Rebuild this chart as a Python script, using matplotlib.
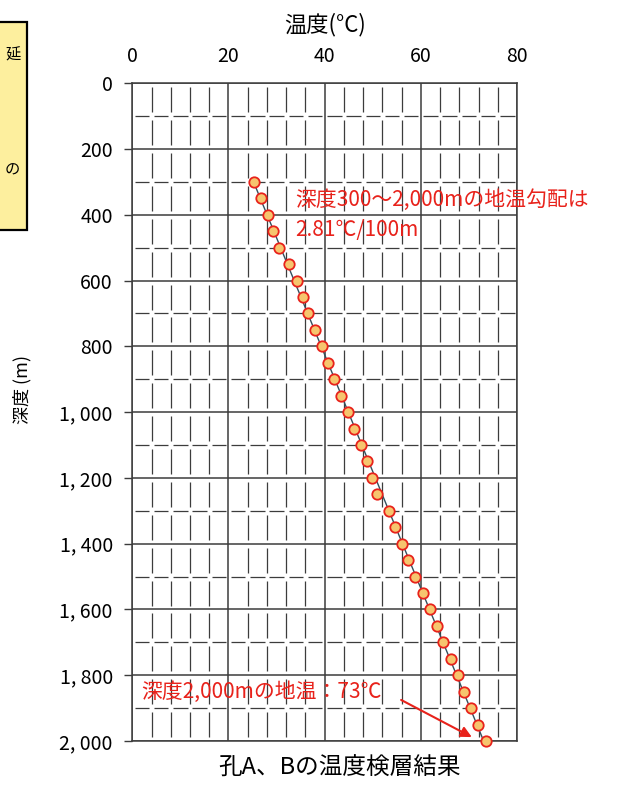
import numpy as np
import matplotlib
matplotlib.use("Agg")
import matplotlib.pyplot as plt
from matplotlib.collections import LineCollection
from matplotlib.patches import Rectangle

plt.rcParams['font.family'] = ['Noto Sans CJK JP', 'DejaVu Sans']

# ---- data ----
depths = [300, 350, 400, 450, 500, 550, 600, 650, 700, 750, 800, 850,
          900, 950, 1000, 1050, 1100, 1150, 1200, 1250, 1300, 1350, 1400, 1450,
          1500, 1550, 1600, 1650, 1700, 1750, 1800, 1850, 1900, 1950, 2000]
temps = [25.4, 26.7, 28.3, 29.2, 30.6, 32.6, 34.2, 35.4, 36.6, 38.0, 39.4, 40.7,
         42.0, 43.4, 44.9, 46.2, 47.5, 48.7, 49.9, 50.9, 53.4, 54.6, 56.1, 57.4,
         58.8, 60.4, 61.9, 63.3, 64.7, 66.3, 67.7, 69.0, 70.4, 71.8, 73.5]
x_ticks = [0, 20, 40, 60, 80]
x_ticklabels = ["0", "20", "40", "60", "80"]
y_ticks = [0, 200, 400, 600, 800, 1000, 1200, 1400, 1600, 1800, 2000]
y_ticklabels = ["0", "200", "400", "600", "800", "1, 000", "1, 200", "1, 400",
                "1, 600", "1, 800", "2, 000"]

RED = "#E8221B"
GRID = "#3c3c3c"

fig = plt.figure(figsize=(6.34, 7.87), dpi=100)
ax = fig.add_axes([0.2087, 0.0584, 0.8155 - 0.2087, 0.8942 - 0.0584])
ax.set_xlim(0, 80)
ax.set_ylim(2000, 0)

# ---- grid ----
for xv in range(0, 81, 20):
    ax.axvline(xv, color=GRID, lw=1.1, zorder=1)
for yv in range(0, 2001, 200):
    ax.axhline(yv, color=GRID, lw=1.1, zorder=1)
segs = []
for xv in range(4, 80, 4):
    if xv % 20 == 0:
        continue
    for yv in range(0, 2000, 100):
        segs.append([(xv, yv + 12), (xv, yv + 88)])
for yv in range(100, 2000, 200):
    for xv in range(0, 80, 4):
        segs.append([(xv + 0.5, yv), (xv + 3.5, yv)])
ax.add_collection(LineCollection(segs, colors=GRID, linewidths=0.9, zorder=1))

for s in ax.spines.values():
    s.set_color(GRID)
    s.set_linewidth(1.1)

# ---- data ----
coef = np.polyfit(depths, temps, 1)
d_line = np.array([depths[0], depths[-1]])
ax.plot(np.polyval(coef, d_line), d_line, color="#34505e", lw=1.0, zorder=2,
        clip_on=False)
ax.plot(temps, depths, 'o', ms=7.5, mfc="#F6C56E", mec=RED, mew=1.3, zorder=3,
        clip_on=False)

# ---- ticks ----
ax.xaxis.tick_top()
ax.set_xticks(x_ticks)
ax.set_xticklabels(x_ticklabels, fontsize=14)
ax.tick_params(axis='x', length=0, pad=12)
ax.set_yticks(y_ticks)
ax.set_yticklabels(y_ticklabels, fontsize=14)
ax.tick_params(axis='y', length=6, width=1, color=GRID, pad=8)
ax.set_xlabel("温度(°C)", fontsize=16, labelpad=10)
ax.xaxis.set_label_position('top')
fig.text(0.035, 0.505, "深度 (m)", rotation=90, fontsize=13, ha='center', va='center')

# ---- annotations ----
ax.text(33.8, 355, "深度300～2,000mの地温勾配は", color=RED, fontsize=15,
        ha='left', va='center')
ax.text(33.8, 446, "2.81℃/100m", color=RED, fontsize=15, ha='left', va='center')
ax.text(1.8, 1850, "深度2,000mの地温：73℃", color=RED, fontsize=15,
        ha='left', va='center')
ax.annotate("", xy=(70.6, 1988), xytext=(55.9, 1875),
            arrowprops=dict(arrowstyle='-|>', color=RED, lw=1.5,
                            mutation_scale=16, shrinkA=0, shrinkB=0))

fig.text(0.536, 0.024, "孔A、Bの温度検層結果", fontsize=17, ha='center', va='center')

# ---- partial yellow box on the left ----
fig.patches.append(Rectangle((-0.05, 0.708), 0.092, 0.264, transform=fig.transFigure,
                             facecolor="#FDEF9E", edgecolor="black", lw=1.6))
fig.text(0.02, 0.93, "延", fontsize=11, ha='center', va='center')
fig.text(0.02, 0.784, "の", fontsize=11, ha='center', va='center')

fig.savefig("out.png", dpi=100)
